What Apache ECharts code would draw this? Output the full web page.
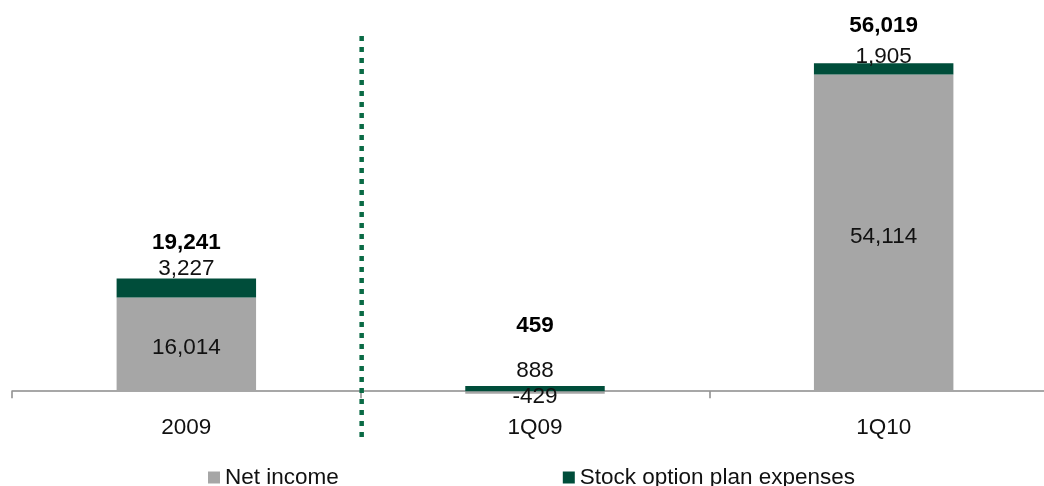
<!DOCTYPE html>
<html>
<head>
<meta charset="utf-8">
<script src="https://cdn.jsdelivr.net/npm/echarts@6/dist/echarts.min.js"></script>
<style>
  html, body { margin: 0; padding: 0; background: #fff; overflow: hidden; }
  /* the axis runs past the right edge in the original, so the canvas is a bit wider than the window */
  #chart { width: 1060px; height: 486px; }
</style>
</head>
<body>
<div id="chart"></div>
<script>
  // values
  const categories = ['2009', '1Q09', '1Q10'];
  const netIncome = [16014, -429, 54114];
  const stockOption = [3227, 888, 1905];
  const totals = [19241, 459, 56019];

  const font = "'Liberation Sans', Arial, sans-serif";
  const fmt = v => v.toLocaleString('en-US');

  // label gaps tuned per bar (excel placed them by hand)
  const optGap = [-2, 4, -5];
  const totalGap = [24, 51, 26];

  const chart = echarts.init(document.getElementById('chart'));

  const option = {
    backgroundColor: '#fff',
    animation: false,
    textStyle: { fontFamily: font },
    grid: { left: 12, top: 40, width: 1046, height: 357 },
    legend: {
      data: ['Net income', 'Stock option plan expenses'],
      left: 203,
      top: 461,
      icon: 'rect',
      itemWidth: 12,
      itemHeight: 12,
      itemGap: 224,
      textStyle: { fontFamily: font, fontSize: 22.5, color: '#111' }
    },
    xAxis: {
      type: 'category',
      data: categories,
      axisLine: { lineStyle: { color: '#8a8a8a', width: 1.5 } },
      axisTick: { show: true, length: 7, lineStyle: { color: '#8a8a8a', width: 1.5 } },
      axisLabel: { margin: 19, fontSize: 22.5, color: '#111', fontFamily: font }
    },
    yAxis: {
      type: 'value',
      min: -1000,
      max: 60000,
      show: false,
      splitLine: { show: false }
    },
    series: [
      {
        name: 'Net income',
        type: 'bar',
        stack: 'total',
        barWidth: '40%',
        itemStyle: { color: '#a6a6a6' },
        label: {
          show: true,
          position: 'inside',
          offset: [0, 4],
          fontSize: 22.5,
          color: '#111',
          fontFamily: font,
          formatter: p => fmt(p.value)
        },
        data: netIncome
      },
      {
        name: 'Stock option plan expenses',
        type: 'bar',
        stack: 'total',
        barWidth: '40%',
        itemStyle: { color: '#004d3a' },
        label: {
          show: true,
          position: 'top',
          fontSize: 22.5,
          color: '#111',
          fontFamily: font,
          formatter: p => fmt(p.value)
        },
        data: stockOption.map((v, i) => ({ value: v, label: { distance: optGap[i] } }))
      },
      {
        name: 'Total',
        type: 'scatter',
        symbolSize: 0,
        silent: true,
        itemStyle: { opacity: 1 },
        label: {
          show: true,
          position: 'top',
          fontSize: 22.5,
          fontWeight: 'bold',
          color: '#000',
          fontFamily: font,
          formatter: p => fmt(p.value)
        },
        data: totals.map((v, i) => ({ value: v, label: { distance: totalGap[i] } }))
      }
    ]
  };

  chart.setOption(option);

  // dotted separator between the year and the quarters
  const x0 = chart.convertToPixel({ xAxisIndex: 0 }, categories[0]);
  const x1 = chart.convertToPixel({ xAxisIndex: 0 }, categories[1]);
  const sepX = (x0 + x1) / 2 + 1;
  chart.setOption({
    graphic: [{
      type: 'line',
      shape: { x1: sepX, y1: 36, x2: sepX, y2: 437 },
      style: { stroke: '#0a6a45', lineWidth: 4.5, lineDash: [5, 6] },
      z: 100
    }]
  });
</script>
</body>
</html>
